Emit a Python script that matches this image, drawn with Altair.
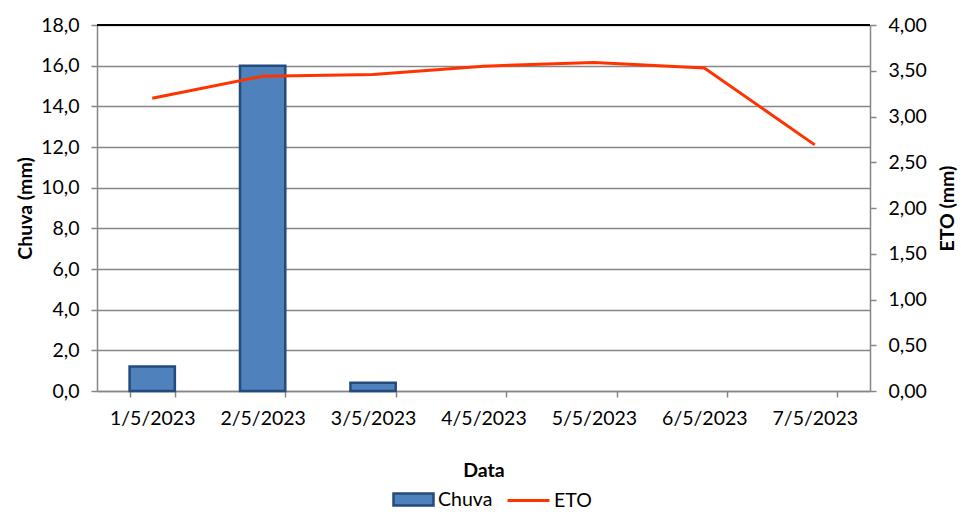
import altair as alt
import pandas as pd

datas = ["1/5/2023", "2/5/2023", "3/5/2023", "4/5/2023", "5/5/2023", "6/5/2023", "7/5/2023"]
chuva = [1.2, 16.0, 0.4, 0.0, 0.0, 0.0, 0.0]
eto = [3.20, 3.44, 3.46, 3.55, 3.59, 3.53, 2.69]

df = pd.DataFrame({"Data": datas, "Chuva": chuva, "ETO": eto,
                   "sb": ["Chuva"] * len(datas), "sl": ["ETO"] * len(datas)})

FONT = "Lato"
FS = 19.5
W, H = 773, 366
GRAY = "#868686"
BLUE = "#4F81BD"
DARK = "#254A7E"
RED = "#FF3300"

x = alt.X("Data:O", sort=datas, title="Data",
          scale=alt.Scale(paddingInner=0.59, paddingOuter=0.295),
          axis=alt.Axis(labelAngle=0, tickBand="extent", domainColor=GRAY, tickColor=GRAY,
                        tickSize=6, domainWidth=1.5, tickWidth=1.5, labelFont=FONT, labelFontSize=FS,
                        labelColor="#000", labelPadding=12, titleFont=FONT, titleFontSize=FS,
                        titleFontWeight="bold", titleColor="#000", titlePadding=34, grid=False))

bars = alt.Chart(df).transform_filter("datum.Chuva > 0").mark_bar(stroke=DARK, strokeWidth=2.5).encode(
    x=x,
    y=alt.Y("Chuva:Q", title="Chuva (mm)",
            scale=alt.Scale(domain=[0, 18], nice=False),
            axis=alt.Axis(values=list(range(0, 19, 2)), grid=True, gridColor=GRAY, gridWidth=1.5,
                          domainColor=GRAY, tickColor=GRAY, tickSize=6, domainWidth=1.5, tickWidth=1.5,
                          labelExpr="replace(format(datum.value, '.1f'), '.', ',')",
                          labelFont=FONT, labelFontSize=FS, labelColor="#000", labelPadding=12,
                          titleFont=FONT, titleFontSize=FS, titleFontWeight="bold", titleColor="#000",
                          titlePadding=5)),
    fill=alt.Fill("sb:N", scale=alt.Scale(domain=["Chuva"], range=[BLUE]),
                  legend=alt.Legend(title=None, orient="none", legendX=295, legendY=453,
                                    symbolType="M-1,-0.3H1V0.3H-1Z", symbolSize=1600,
                                    symbolStrokeColor=DARK, symbolStrokeWidth=2.5,
                                    labelFont=FONT, labelFontSize=FS, labelColor="#000",
                                    labelOffset=3)),
)

line = alt.Chart(df).mark_line(strokeWidth=3).encode(
    x=x,
    y=alt.Y("ETO:Q", title="ETO (mm)",
            scale=alt.Scale(domain=[0, 4], nice=False),
            axis=alt.Axis(orient="right", values=[0, 0.5, 1, 1.5, 2, 2.5, 3, 3.5, 4], grid=False,
                          domainColor=GRAY, tickColor=GRAY, tickSize=6, domainWidth=1.5, tickWidth=1.5,
                          labelExpr="replace(format(datum.value, '.2f'), '.', ',')",
                          labelFont=FONT, labelFontSize=FS, labelColor="#000", labelPadding=12,
                          titleFont=FONT, titleFontSize=FS, titleFontWeight="bold", titleColor="#000",
                          titleAngle=270, titlePadding=31)),
    stroke=alt.Stroke("sl:N", scale=alt.Scale(domain=["ETO"], range=[RED]),
                      legend=alt.Legend(title=None, orient="none", legendX=409, legendY=453,
                                        symbolType="stroke", symbolSize=1764, symbolStrokeWidth=3,
                                        labelFont=FONT, labelFontSize=FS, labelColor="#000",
                                        labelOffset=3)),
)

top = alt.Chart(df).mark_rule(color="#000", strokeWidth=2).encode(
    x=alt.value(0), x2=alt.value(W), y=alt.value(0))

chart = alt.layer(bars, line, top).resolve_scale(y="independent").properties(
    width=W, height=H,
    autosize=alt.AutoSizeParams(type="none"),
    padding={"left": 89, "top": 17, "right": 94, "bottom": 132},
).configure_view(stroke=None)

chart.save("out.html", embed_options={"renderer": "svg", "actions": False})
